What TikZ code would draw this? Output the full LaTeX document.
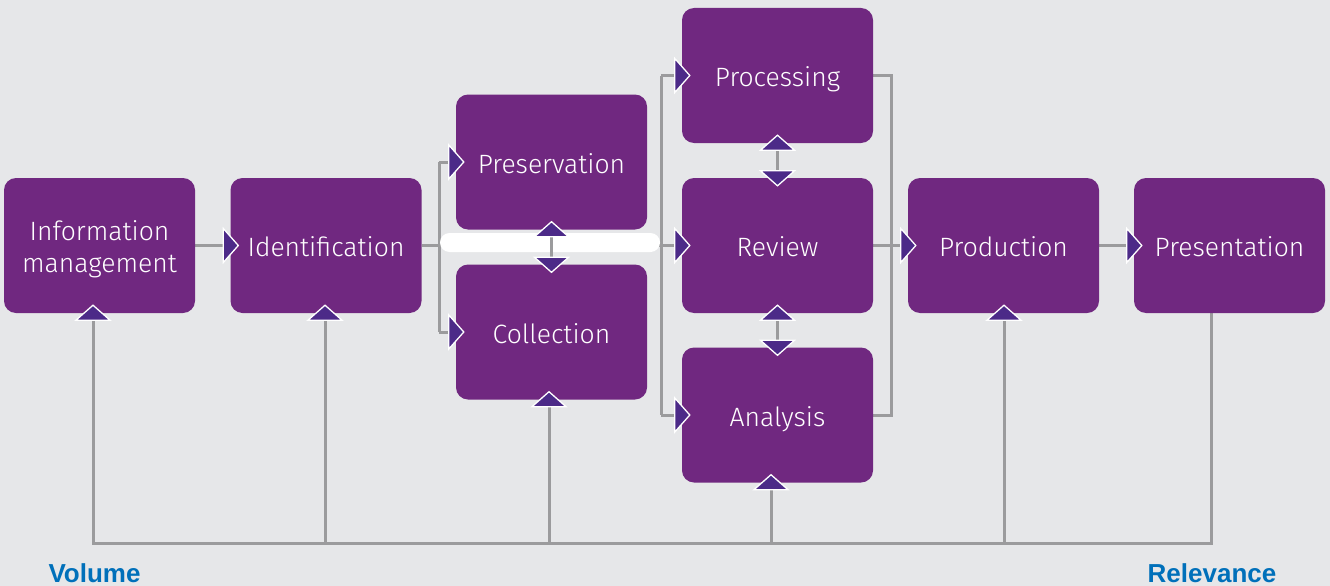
\documentclass[tikz,border=0pt]{standalone}
\usepackage{fontspec}
\setmainfont{Liberation Sans}
\newfontfamily\boxfont[UprightFont={* Light}]{Fira Sans}
\usetikzlibrary{calc,backgrounds}
\pgfdeclarelayer{canvas}
\pgfsetlayers{canvas,background,main}
\definecolor{bgc}{RGB}{230,231,233}
\definecolor{boxc}{RGB}{112,40,128}
\definecolor{tric}{RGB}{76,42,136}
\definecolor{linec}{RGB}{155,155,157}
\definecolor{bluec}{RGB}{0,112,186}
\newcommand\lbl[1]{\raisebox{-11pt}[0pt][0pt]{\begin{tabular}[c]{@{}c@{}}#1\end{tabular}}}
\tikzset{
  stage/.style={rectangle, fill=boxc, rounded corners=12pt, minimum width=191pt, minimum height=135pt,
    inner sep=0pt, text=white, align=center, font=\boxfont\fontsize{26.5}{32}\selectfont},
  conn/.style={draw=linec, line width=3pt},
  trist/.style={fill=tric, draw=white, line width=1.3pt, line join=miter},
  trir/.pic={\draw[trist] (-7,-17) -- (8,0) -- (-7,17) -- cycle;},
  triu/.pic={\draw[trist] (-17,7) -- (0,-8) -- (17,7) -- cycle;},
  trid/.pic={\draw[trist] (-17,-7) -- (0,8) -- (17,-7) -- cycle;},
  axislabel/.style={text=bluec, font=\bfseries\fontsize{26}{30}\selectfont, anchor=base, inner sep=0pt}
}
\begin{document}
\begin{tikzpicture}[x=1pt,y=-1pt]
\useasboundingbox (0,0) rectangle (1330,586);
\begin{pgfonlayer}{canvas}
\fill[bgc] (0,0) rectangle (1330,586);
\end{pgfonlayer}
% boxes
\node[stage] (info)  at (99.5,245.5) {\lbl{Information\\management}};
\node[stage] (ident) at (326,245.5) {\lbl{Identification}};
\node[stage] (pres)  at (551.5,162) {\lbl{Preservation}};
\node[stage] (coll)  at (551.5,332) {\lbl{Collection}};
\node[stage] (proc)  at (777.5,75.5) {\lbl{Processing}};
\node[stage] (rev)   at (777.5,245.5) {\lbl{Review}};
\node[stage] (ana)   at (777.5,415) {\lbl{Analysis}};
\node[stage] (prod)  at (1003.5,245.5) {\lbl{Production}};
\node[stage] (presn) at (1229.5,245.5) {\lbl{Presentation}};
% axis labels
\node[axislabel] (vol) at (94.5,582) {Volume};
\node[axislabel] (relv) at (1212,582) {Relevance};
% branch coordinates
\coordinate (lb) at (439,0);
\coordinate (rb) at (661,0);
\coordinate (mb) at (891,0);
\coordinate (b1) at (93,543);
\coordinate (b2) at (325,543);
\coordinate (b3) at (549,543);
\coordinate (b4) at (771,543);
\coordinate (b5) at (1004,543);
\coordinate (b6) at (1211,543);
% connectors
\begin{pgfonlayer}{background}
\draw[conn] (info.east) -- (ident.west);
\draw[conn] (ident.east) -- (rev.west);
\draw[conn] (lb |- pres.west) -- (lb |- coll.west);
\draw[conn] (lb |- pres.west) -- (pres.west);
\draw[conn] (lb |- coll.west) -- (coll.west);
\draw[conn] (rb |- proc.west) -- (rb |- ana.west);
\draw[conn] (rb |- proc.west) -- (proc.west);
\draw[conn] (rb |- ana.west) -- (ana.west);
\draw[conn] (proc.east) -- (mb |- proc.east) -- (mb |- ana.east) -- (ana.east);
\draw[conn] (rev.east) -- (prod.west);
\draw[conn] (prod.east) -- (presn.west);
\draw[conn] (proc.south) -- (rev.north);
\draw[conn] (rev.south) -- (ana.north);
\draw[conn] (b1 |- info.south) -- (b1) -- (b6) -- (b6 |- presn.south);
\draw[conn] (b2 |- ident.south) -- (b2);
\draw[conn] (b3 |- coll.south) -- (b3);
\draw[conn] (b4 |- ana.south) -- (b4);
\draw[conn] (b5 |- prod.south) -- (b5);
\end{pgfonlayer}
% white bar
\coordinate (barl) at (440,242.5);
\coordinate (barr) at (660,242.5);
\fill[white, rounded corners=9.5pt] ($(barl)+(0,-9.5)$) rectangle ($(barr)+(0,9.5)$);
\draw[conn] (pres.south) -- (coll.north);
% arrowheads
\foreach \n in {ident,pres,coll,proc,rev,ana,prod,presn} \pic at (\n.west) {trir};
\foreach \n in {pres,proc,rev} \pic at (\n.south) {triu};
\foreach \n in {coll,rev,ana} \pic at (\n.north) {trid};
\pic at (b1 |- info.south) {triu};
\pic at (b2 |- ident.south) {triu};
\pic at (b3 |- coll.south) {triu};
\pic at (b4 |- ana.south) {triu};
\pic at (b5 |- prod.south) {triu};
\end{tikzpicture}
\end{document}
